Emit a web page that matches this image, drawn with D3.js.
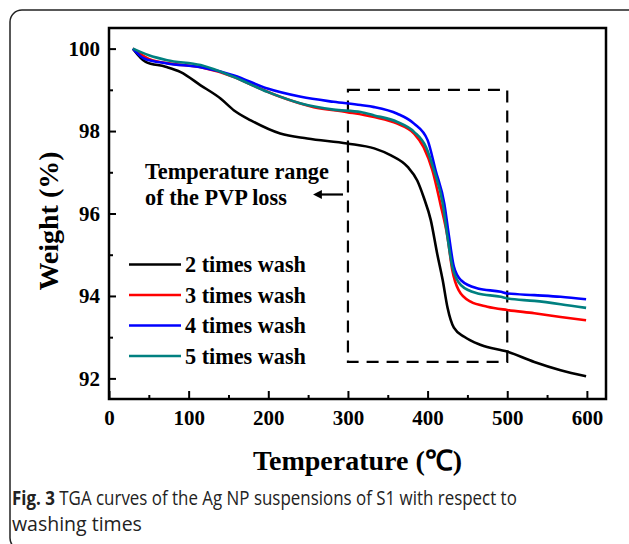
<!DOCTYPE html>
<html>
<head>
<meta charset="utf-8">
<script src="https://cdn.jsdelivr.net/npm/d3@7"></script>
<style>
  body { margin:0; background:#fff; }
  .tick text { font-family:"Liberation Serif","Times New Roman",serif; font-weight:bold; font-size:21px; fill:#000; }
</style>
</head>
<body>
<script>
// TGA curves, values (temperature in C, weight in %)
var wash2T = [30,46,71,90,115,140,157,178,215,249,299,333,354,375,387,395,404,412,419,425,433,446,467,500,534,567,599];
var wash2W = [100,99.68,99.56,99.43,99.11,98.79,98.50,98.26,97.94,97.82,97.70,97.58,97.41,97.13,96.80,96.40,95.84,95.03,94.38,93.72,93.23,93.01,92.81,92.65,92.40,92.20,92.05];

var wash3T = [30,50,80,115,157,178,215,257,299,333,362,383,395,406,416,425,431,439,454,475,500,534,567,599];
var wash3W = [100,99.75,99.63,99.55,99.31,99.13,98.83,98.58,98.46,98.34,98.18,97.94,97.61,97.05,96.24,95.43,94.63,94.14,93.86,93.74,93.66,93.58,93.49,93.41];

var wash4T = [30,44,73,115,157,199,241,282,316,333,362,383,400,410,421,427,433,442,463,492,500,534,567,599];
var wash4W = [100,99.76,99.64,99.55,99.35,99.03,98.83,98.71,98.63,98.58,98.42,98.18,97.78,97.05,96.24,95.43,94.71,94.38,94.18,94.10,94.06,94.02,93.98,93.92];

var wash5T = [30,50,73,115,157,199,241,282,316,333,362,383,398,408,419,425,431,442,463,492,500,534,567,599];
var wash5W = [100,99.84,99.72,99.60,99.31,98.95,98.67,98.52,98.46,98.38,98.22,97.98,97.61,97.05,96.24,95.43,94.71,94.26,94.06,93.98,93.94,93.88,93.80,93.71];

var seriesNames = ["2 times wash","3 times wash","4 times wash","5 times wash"];
var seriesColors = ["#000000","#ff0000","#0000ff","#008080"];

var xTicks = [0,100,200,300,400,500,600];
var yTicks = [92,94,96,98,100];

// dashed box marking the PVP loss range
var boxT = [300,500];
var boxW = [92.4,99.0];

var screen = { width:629, height:544 };

var svg = d3.select("body").append("svg")
            .attr("width",screen.width)
            .attr("height",screen.height);

// fit a text element's font size to a target width
var fitText = function(sel,target)
{
  var w = sel.node().getComputedTextLength();
  var fs = parseFloat(sel.attr("font-size"));
  var nfs = fs*target/w;
  sel.attr("font-size",nfs);
  return nfs;
};

// rounded figure border, open at the bottom of the window
svg.append("rect")
   .attr("x",10).attr("y",10)
   .attr("width",630).attr("height",540)
   .attr("rx",12)
   .attr("fill","none")
   .attr("stroke","#222")
   .attr("stroke-width",1.5);

var margins = { top:28, left:109, right:23, bottom:145 };
var width = screen.width - margins.left - margins.right;
var height = screen.height - margins.top - margins.bottom;

var xScale = d3.scaleLinear()
               .domain([0,624])
               .range([0,width]);
var yScale = d3.scaleLinear()
               .domain([91.5,100.5])
               .range([height,0]);

var plotLand = svg.append("g")
                  .attr("transform","translate("+margins.left+","+margins.top+")");

// minor ticks
plotLand.append("g")
  .attr("transform","translate(0,"+height+")")
  .call(d3.axisBottom(xScale).tickValues(d3.range(50,624,100)).tickSize(-4).tickFormat(""))
  .call(function(g){ g.select(".domain").remove(); })
  .selectAll("line").attr("stroke-width",2);
plotLand.append("g")
  .call(d3.axisLeft(yScale).tickValues([93,95,97,99]).tickSize(-4).tickFormat(""))
  .call(function(g){ g.select(".domain").remove(); })
  .selectAll("line").attr("stroke-width",2);

// major ticks
var xAxis = plotLand.append("g")
  .attr("transform","translate(0,"+height+")")
  .call(d3.axisBottom(xScale).tickValues(xTicks).tickSize(-8).tickPadding(11));
xAxis.select(".domain").remove();
xAxis.selectAll("line").attr("stroke-width",2);

var yAxis = plotLand.append("g")
  .call(d3.axisLeft(yScale).tickValues(yTicks).tickSize(-7).tickPadding(9));
yAxis.select(".domain").remove();
yAxis.selectAll("line").attr("stroke-width",2);

// frame
plotLand.append("rect")
  .attr("width",width).attr("height",height)
  .attr("fill","none")
  .attr("stroke","#000")
  .attr("stroke-width",2.5);

// dashed box
plotLand.append("rect")
  .attr("x",xScale(boxT[0]))
  .attr("y",yScale(boxW[1]))
  .attr("width",xScale(boxT[1])-xScale(boxT[0]))
  .attr("height",yScale(boxW[0])-yScale(boxW[1]))
  .attr("fill","none")
  .attr("stroke","#000")
  .attr("stroke-width",2.2)
  .attr("stroke-dasharray","12,8");

// curves
var allT = [wash2T,wash3T,wash4T,wash5T];
var allW = [wash2W,wash3W,wash4W,wash5W];

var drawLine = d3.line()
                 .x(function(d){ return xScale(d[0]); })
                 .y(function(d){ return yScale(d[1]); })
                 .curve(d3.curveMonotoneX);

seriesNames.forEach(function(name,i)
{
  var pts = allT[i].map(function(t,j){ return [t, allW[i][j]]; });
  plotLand.append("path")
    .datum(pts)
    .attr("d",drawLine)
    .attr("fill","none")
    .attr("stroke",seriesColors[i])
    .attr("stroke-width",2.6)
    .attr("stroke-linejoin","round");
});

// annotation
var serif = "'Liberation Serif','Times New Roman',serif";
var ann1 = svg.append("text")
  .attr("x",145).attr("y",179)
  .attr("font-family",serif).attr("font-weight","bold").attr("font-size",21)
  .text("Temperature range");
var annSize = fitText(ann1,184);
svg.append("text")
  .attr("x",145).attr("y",205)
  .attr("font-family",serif).attr("font-weight","bold").attr("font-size",annSize)
  .text("of the PVP loss");

svg.append("defs").append("marker")
  .attr("id","arrow")
  .attr("viewBox","0 0 10 10")
  .attr("refX",1).attr("refY",5)
  .attr("markerWidth",5.5).attr("markerHeight",4)
  .attr("orient","auto-start-reverse")
  .append("path")
  .attr("d","M0,0L10,5L0,10z")
  .attr("fill","#000");

svg.append("line")
  .attr("x1",343).attr("y1",194.5)
  .attr("x2",321).attr("y2",194.5)
  .attr("stroke","#000")
  .attr("stroke-width",2.2)
  .attr("marker-end","url(#arrow)");

// legend
var legend = svg.append("g")
  .attr("transform","translate(129,264.5)");
var legendLines = legend.selectAll("g")
  .data(seriesNames)
  .enter()
  .append("g")
  .attr("transform",function(d,i){ return "translate(0,"+(i*30.5)+")"; });
legendLines.append("line")
  .attr("x1",0).attr("x2",52)
  .attr("stroke",function(d,i){ return seriesColors[i]; })
  .attr("stroke-width",2.6);
var legendText = legendLines.append("text")
  .attr("x",56).attr("dy","0.34em")
  .attr("font-family",serif).attr("font-weight","bold").attr("font-size",21)
  .text(function(d){ return d; });
var legSize = fitText(d3.select(legendText.node()),121);
legendText.attr("font-size",legSize);

// axis titles
svg.append("text")
  .attr("x",margins.left+xScale(312)).attr("y",470)
  .attr("text-anchor","middle")
  .attr("font-family",serif).attr("font-weight","bold").attr("font-size",28)
  .text("Temperature (\u2103)");

svg.append("text")
  .attr("transform","translate(58,221) rotate(-90)")
  .attr("text-anchor","middle")
  .attr("font-family",serif).attr("font-weight","bold").attr("font-size",28)
  .text("Weight (%)");

// caption, first line squeezed horizontally to the reference width
var capSize = 19.5;
var cap1 = svg.append("text")
  .attr("font-family","'Open Sans',sans-serif").attr("font-size",capSize)
  .attr("fill","#222");
cap1.append("tspan").attr("font-weight","bold").text("Fig. 3");
cap1.append("tspan").text(" TGA curves of the Ag NP suspensions of S1 with respect to");
var cap1w = cap1.node().getComputedTextLength();
cap1.attr("transform","translate(12,505) scale("+(505/cap1w)+",1)");

svg.append("text")
  .attr("x",12).attr("y",531)
  .attr("font-family","'Open Sans',sans-serif").attr("font-size",capSize)
  .attr("fill","#222")
  .text("washing times");
</script>
</body>
</html>
